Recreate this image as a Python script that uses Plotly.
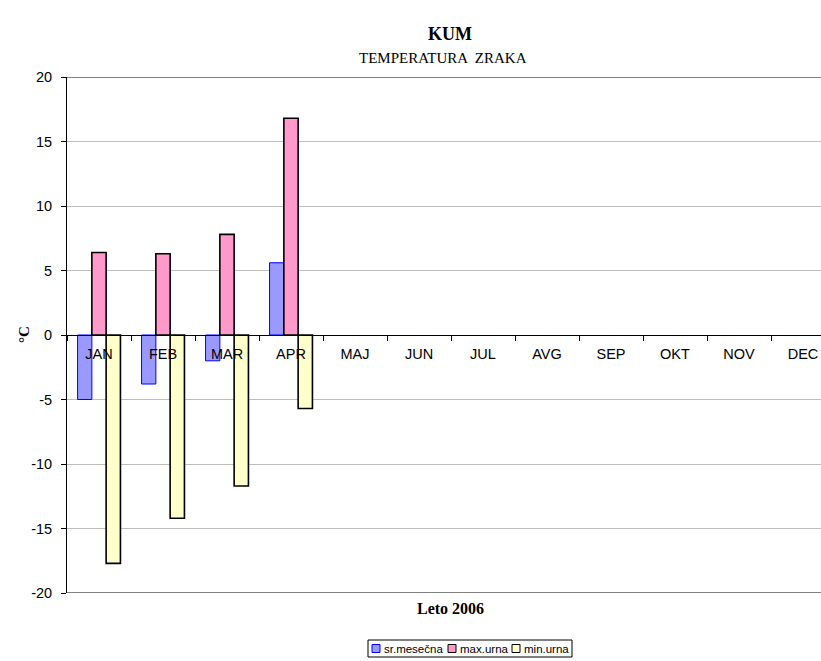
import plotly.graph_objects as go

months = ["JAN", "FEB", "MAR", "APR", "MAJ", "JUN", "JUL", "AVG", "SEP", "OKT", "NOV", "DEC"]
series_names = ["sr.mesečna", "max.urna", "min.urna"]
sr_mesecna = [-5.0, -3.8, -2.0, 5.6, None, None, None, None, None, None, None, None]
max_urna = [6.4, 6.3, 7.8, 16.8, None, None, None, None, None, None, None, None]
min_urna = [-17.7, -14.2, -11.7, -5.7, None, None, None, None, None, None, None, None]
y_ticks = [20, 15, 10, 5, 0, -5, -10, -15, -20]

fills = ["#9999FF", "#FF99CC", "#FFFFCC"]
edges = ["#0000FF", "#000000", "#000000"]
edge_w = [1, 1.6, 1.6]

W, H = 821, 661
L, R, T, B = 67, 0, 77, 68
pw, ph = W - L - R, H - T - B


def px(x):
    return (x - L) / pw


def py(y):
    return (H - B - y) / ph


fig = go.Figure()
for name, vals, fc, ec, ew in zip(series_names, [sr_mesecna, max_urna, min_urna], fills, edges, edge_w):
    fig.add_trace(go.Bar(x=months, y=vals, name=name, showlegend=False,
                         marker=dict(color=fc, line=dict(color=ec, width=ew))))

# dark top/bottom plot-area lines
for yv in (20, -20):
    fig.add_shape(type="line", xref="paper", yref="y", x0=0, x1=1, y0=yv, y1=yv,
                  line=dict(color="#808080", width=2), layer="above")

fig.add_annotation(text="<b>KUM</b>", xref="paper", yref="paper", x=px(450), y=py(22),
                   showarrow=False, font=dict(family="Liberation Serif", size=18, color="black"))
fig.add_annotation(text="TEMPERATURA  ZRAKA", xref="paper", yref="paper", x=px(443), y=py(48),
                   showarrow=False, font=dict(family="Liberation Serif", size=15, color="black"))
fig.add_annotation(text="<b>Leto 2006</b>", xref="paper", yref="paper", x=px(450), y=py(619),
                   showarrow=False, font=dict(family="Liberation Serif", size=16, color="black"))
fig.add_annotation(text="<b>°C</b>", xref="paper", yref="paper", x=px(14), y=py(335),
                   showarrow=False, textangle=-90,
                   font=dict(family="Liberation Serif", size=15, color="black"))

# legend box (drawn manually to match the compact original legend)
leg_font = 11.5
text_w = [60, 48, 45]
leg_cy = 648.5
leg_h = 17
pad, sq, gap_t, gap_i = 4, 8, 3, 5
leg_w = pad * 2 + sum(text_w) + 3 * (sq + gap_t) + 2 * gap_i
leg_x0 = 470 - leg_w / 2
fig.add_shape(type="rect", xref="paper", yref="paper",
              x0=px(leg_x0), x1=px(leg_x0 + leg_w),
              y0=py(leg_cy - leg_h / 2), y1=py(leg_cy + leg_h / 2),
              line=dict(color="black", width=1), fillcolor="white")
cx = leg_x0 + pad
for name, fc, ec, tw in zip(series_names, fills, edges, text_w):
    fig.add_shape(type="rect", xref="paper", yref="paper",
                  x0=px(cx), x1=px(cx + sq), y0=py(leg_cy - sq / 2), y1=py(leg_cy + sq / 2),
                  line=dict(color=ec, width=1), fillcolor=fc)
    cx += sq + gap_t
    fig.add_annotation(text=name, xref="paper", yref="paper", x=px(cx), y=py(leg_cy),
                       xanchor="left", yanchor="middle", showarrow=False,
                       font=dict(family="Liberation Sans", size=leg_font, color="black"),
                       borderpad=0)
    cx += tw + gap_i

fig.update_layout(
    width=W, height=H,
    margin=dict(l=L, r=R, t=T, b=B, pad=0, autoexpand=False),
    paper_bgcolor="white", plot_bgcolor="white",
    barmode="group", bargap=0.33, bargroupgap=0,
    showlegend=False,
    font=dict(family="Liberation Sans", color="black"),
)
fig.update_xaxes(
    type="category", categoryorder="array", categoryarray=months,
    range=[-0.5, -0.5 + pw / 64.0],
    anchor="free", position=0.5, automargin=False,
    showline=True, linecolor="black", linewidth=1,
    ticks="outside", tickson="boundaries", ticklen=5, tickcolor="black",
    tickfont=dict(family="Liberation Sans", size=14.5, color="black"),
    ticklabelstandoff=6,
    showgrid=False, zeroline=False,
)
fig.update_yaxes(
    range=[-20, 20], domain=[0, 1], automargin=False,
    tickvals=y_ticks, ticktext=[str(v) for v in y_ticks],
    showline=True, linecolor="black", linewidth=1,
    ticks="outside", ticklen=5, tickcolor="black",
    tickfont=dict(family="Liberation Sans", size=14.5, color="black"),
    ticklabelstandoff=6,
    showgrid=True, gridcolor="#C0C0C0", gridwidth=1.3,
    zeroline=False,
)

fig.write_html(
    "out.html",
    config={"displayModeBar": False},
    post_script="document.body.style.margin='0';document.body.style.padding='0';"
                "document.body.style.overflow='hidden';",
)
